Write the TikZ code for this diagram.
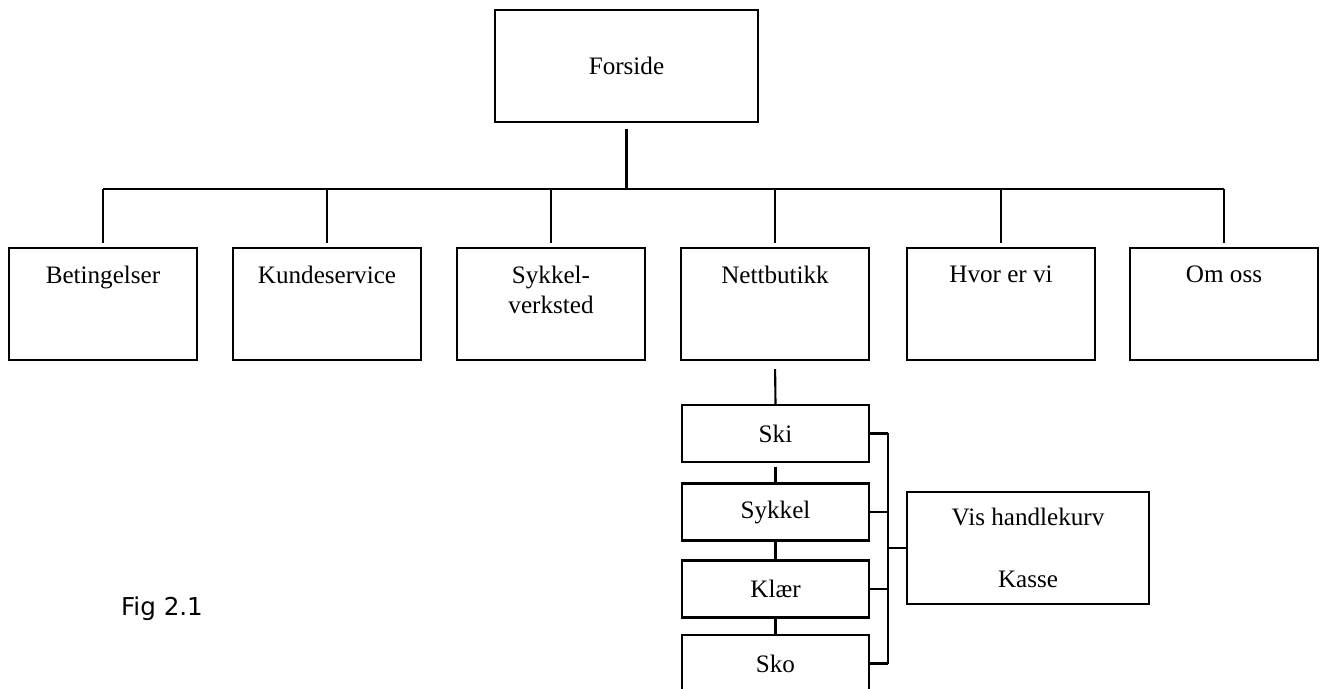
\documentclass[tikz,border=0pt]{standalone}
\usepackage{fontspec}
\setmainfont{Liberation Serif}
\newfontfamily\figfont{DejaVu Sans}
\usetikzlibrary{positioning}

\begin{document}
\begin{tikzpicture}[
  every node/.style={font=\fontsize{14.3}{17}\selectfont},
  box/.style={rectangle, draw, line width=1.2pt, inner sep=0pt},
  mainbox/.style={box, minimum width=5.26cm, minimum height=2.24cm},
  pagebox/.style={box, minimum width=3.76cm, minimum height=2.24cm,
                  label={[anchor=north, inner sep=0pt, yshift=-0.38cm, align=center]north:#1}},
  catbox/.style={box, minimum width=3.74cm, minimum height=1.14cm},
  link/.style={line width=1.2pt},
]
  \useasboundingbox (0,0) rectangle (26.5,-13.78);

  \node[mainbox] (forside) at (12.53,-1.32) {\raisebox{-0.08cm}{Forside}};

  \node[pagebox=Betingelser] (beting) at (2.06,-6.08) {};
  \node[pagebox=Kundeservice] (kunde) at (6.54,-6.08) {};
  \node[pagebox={Sykkel-\\verksted}] (verksted) at (11.02,-6.08) {};
  \node[pagebox=Nettbutikk] (nett) at (15.5,-6.08) {};
  \node[pagebox=Hvor er vi] (hvor) at (20.02,-6.08) {};
  \node[pagebox=Om oss] (omoss) at (24.48,-6.08) {};

  \node[catbox] (ski) at (15.51,-8.67) {Ski};
  \node[catbox] (sykkel) at (15.51,-10.24) {Sykkel};
  \node[catbox] (klaer) at (15.51,-11.78) {Klær};
  \node[catbox] (sko) at (15.51,-13.27) {Sko};

  \node[box, minimum width=4.84cm, minimum height=2.24cm, align=center] (vis)
    at (20.56,-10.96) {Vis handlekurv\\[0.64cm]Kasse};

  \node[font=\figfont\fontsize{14}{16}\selectfont] (fig) at (3.24,-12.18) {Fig 2.1};

  % tree from the front page
  \coordinate (bar) at (12.53,-3.78);
  \draw[link, shorten <=0.12cm] (forside.south) -- (bar);
  \draw[link] (beting.north |- bar) -- (omoss.north |- bar);
  \foreach \n in {beting,kunde,verksted,nett,hvor,omoss}
    \draw[link, shorten >=0.08cm] (\n.north |- bar) -- (\n.north);

  % shop categories
  \draw[link, shorten <=0.16cm] (nett.south) -- (ski.north);
  \draw[link, shorten <=0.08cm] (ski.south) -- (sykkel.north);
  \draw[link] (sykkel.south) -- (klaer.north);
  \draw[link] (klaer.south) -- (sko.north);

  \coordinate (brk) at (17.76,-10.96);
  \draw[link] (ski.east -| brk) -- (sko.east -| brk);
  \foreach \n in {ski,sykkel,klaer,sko}
    \draw[link] (\n.east) -- (\n.east -| brk);
  \draw[link] (brk) -- (vis.west);
\end{tikzpicture}
\end{document}
